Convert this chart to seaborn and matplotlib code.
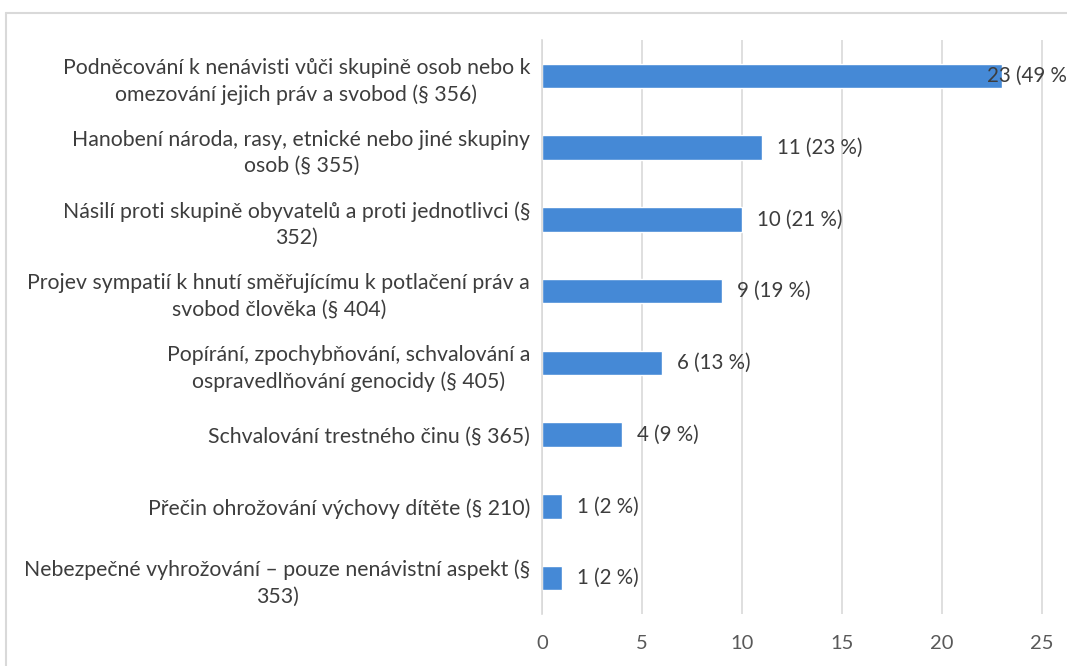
import numpy as np
import pandas as pd
import matplotlib
matplotlib.use('Agg')
import matplotlib.pyplot as plt
import seaborn as sns

# --- data -------------------------------------------------------------------
categories = [
    "Podněcování k nenávisti vůči skupině osob nebo k\nomezování jejich práv a svobod (§ 356)",
    "Hanobení národa, rasy, etnické nebo jiné skupiny\nosob (§ 355)",
    "Násilí proti skupině obyvatelů a proti jednotlivci (§\n352)",
    "Projev sympatií k hnutí směřujícímu k potlačení práv a\nsvobod člověka (§ 404)",
    "Popírání, zpochybňování, schvalování a\nospravedlňování genocidy (§ 405)",
    "Schvalování trestného činu (§ 365)",
    "Přečin ohrožování výchovy dítěte (§ 210)",
    "Nebezpečné vyhrožování – pouze nenávistní aspekt (§\n353)",
]
counts = [23, 11, 10, 9, 6, 4, 1, 1]
percents = [49, 23, 21, 19, 13, 9, 2, 2]
x_ticks = [0, 5, 10, 15, 20, 25]

BAR_COLOR = "#4589D6"
GRID_COLOR = "#d9d9d9"
TEXT_COLOR = "#3d3d3d"

df = pd.DataFrame({"category": categories, "count": counts, "pct": percents})

sns.set_theme(style="white")
plt.rcParams['font.family'] = ['Lato', 'DejaVu Sans']

fig = plt.figure(figsize=(10.67, 6.66), dpi=100)
W, H = 1067, 666
ax = fig.add_axes([542 / W, 1 - 614 / H, (1067 - 542) / W, (614 - 40) / H])

sns.barplot(data=df, y="category", x="count", orient="h", color=BAR_COLOR,
            width=0.34, saturation=1, ax=ax, order=categories)

xmax = (1067 - 542) / 20.0
ax.set_xlim(0, xmax)
ax.set_ylim(len(categories) - 0.5, -0.5)
ax.set_xticks(x_ticks)
ax.xaxis.grid(True, color=GRID_COLOR, linewidth=1.2)
ax.set_axisbelow(True)
for s in ["top", "right", "bottom"]:
    ax.spines[s].set_visible(False)
ax.spines["left"].set_color(GRID_COLOR)
ax.spines["left"].set_linewidth(1.2)
ax.set_xlabel("")
ax.set_ylabel("")
ax.tick_params(axis="y", length=0, pad=8.5, labelsize=15.3, labelcolor=TEXT_COLOR)
ax.tick_params(axis="x", length=0, pad=15, labelsize=14.5, labelcolor="#595959")
for t in ax.get_yticklabels():
    t.set_multialignment("center")
    t.set_linespacing(1.4)

# data labels
for i, (c, p) in enumerate(zip(counts, percents)):
    label = f"{c} ({p} %)"
    off = 11 if c + 4.5 < xmax else -11
    ax.annotate(label, xy=(c, i), xytext=(off, 0), textcoords="offset points",
                ha="left", va="center", fontsize=14.8, color=TEXT_COLOR,
                annotation_clip=False)

# outer chart frame (partly cropped in the reference)
fig.add_artist(plt.Line2D([6 / W, 1], [1 - 13 / H, 1 - 13 / H],
                          color=GRID_COLOR, linewidth=1.5))
fig.add_artist(plt.Line2D([6 / W, 6 / W], [0, 1 - 13 / H],
                          color=GRID_COLOR, linewidth=1.5))

fig.savefig("out.png", dpi=100)
